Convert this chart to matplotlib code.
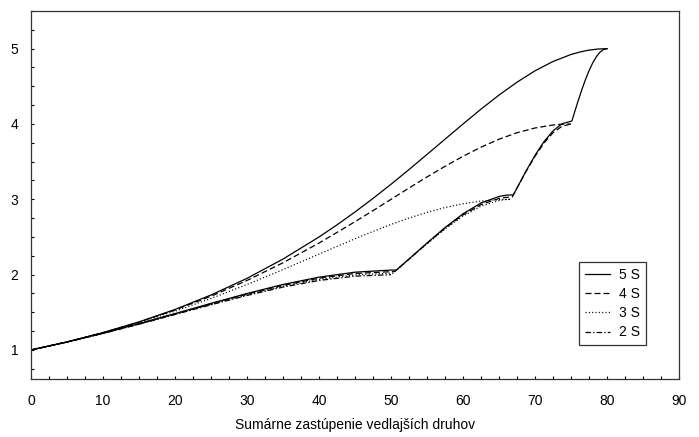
import matplotlib
matplotlib.use("Agg")
import matplotlib.pyplot as plt
from matplotlib.ticker import MultipleLocator

plt.rcParams['font.family'] = ['Liberation Sans', 'DejaVu Sans']
plt.rcParams['lines.scale_dashes'] = False

# ---- data ----
series_labels = ["5 S", "4 S", "3 S", "2 S"]

# upper branches (equal share of secondary species)
x_up5 = [0, 5, 10, 15, 20, 25, 30, 35, 40, 42.5, 45, 47.5, 50, 52.5, 55, 57.5, 60,
         62.5, 65, 67.5, 70, 72.5, 75, 76.25, 77.5, 78.75, 80]
y_up5 = [1.0, 1.107, 1.231, 1.373, 1.538, 1.730, 1.951, 2.207, 2.5, 2.661, 2.832,
         3.012, 3.2, 3.395, 3.596, 3.798, 4.0, 4.197, 4.384, 4.555, 4.706, 4.830,
         4.923, 4.956, 4.981, 4.995, 5.0]

x_up4 = [0, 5, 10, 15, 20, 25, 30, 35, 40, 45, 47.5, 50, 52.5, 55, 57.5, 60, 62.5,
         65, 67.5, 70, 72.5, 73.75, 75]
y_up4 = [1.0, 1.107, 1.230, 1.370, 1.531, 1.714, 1.923, 2.158, 2.419, 2.703, 2.850,
         3.0, 3.150, 3.297, 3.438, 3.571, 3.692, 3.798, 3.884, 3.947, 3.987, 3.997, 4.0]

x_up3 = [0, 5, 10, 15, 20, 25, 30, 35, 40, 45, 47.5, 50, 52.5, 55, 57.5, 60, 62.5,
         65, 66.7]
y_up3 = [1.0, 1.107, 1.227, 1.363, 1.515, 1.684, 1.869, 2.067, 2.273, 2.477, 2.574,
         2.667, 2.752, 2.827, 2.891, 2.941, 2.977, 2.996, 3.0]

# lower branches (secondary species added one after another)
x_lo5 = [0, 5, 10, 15, 20, 25, 30, 35, 40, 45, 50, 50.75, 52.5, 55, 57.5, 60, 62.5,
         65, 66, 67, 68.75, 70, 71.25, 72.5, 73.75, 75.125, 75.5, 76, 76.5, 77,
         77.5, 78, 78.5, 79, 79.5, 80]
y_lo5 = [1.0, 1.107, 1.224, 1.350, 1.483, 1.619, 1.750, 1.870, 1.967, 2.033, 2.061,
         2.061, 2.208, 2.420, 2.625, 2.808, 2.951, 3.038, 3.055, 3.060, 3.375, 3.584,
         3.766, 3.909, 4.003, 4.040, 4.158, 4.310, 4.454, 4.587, 4.706, 4.808,
         4.890, 4.951, 4.988, 5.0]

x_lo4 = [0, 5, 10, 15, 20, 25, 30, 35, 40, 45, 50, 50.5, 52.5, 55, 57.5, 60, 62.5,
         65, 66, 66.83, 67.5, 68.75, 70, 71.25, 72.5, 73.75, 75]
y_lo4 = [1.0, 1.106, 1.222, 1.347, 1.479, 1.613, 1.742, 1.858, 1.953, 2.016, 2.040,
         2.040, 2.206, 2.415, 2.616, 2.793, 2.930, 3.012, 3.026, 3.030, 3.150, 3.368,
         3.571, 3.747, 3.884, 3.970, 4.0]

x_lo3 = [0, 5, 10, 15, 20, 25, 30, 35, 40, 45, 50, 50.25, 52.5, 55, 57.5, 60, 62.5,
         65, 66, 66.67]
y_lo3 = [1.0, 1.106, 1.221, 1.345, 1.475, 1.606, 1.733, 1.847, 1.938, 1.998, 2.020,
         2.020, 2.204, 2.410, 2.606, 2.778, 2.909, 2.985, 2.998, 3.0]

x_lo2 = [0, 5, 10, 15, 20, 25, 30, 35, 40, 45, 50]
y_lo2 = [1.0, 1.105, 1.220, 1.342, 1.471, 1.6, 1.724, 1.835, 1.923, 1.980, 2.0]

x_ticks = [0, 10, 20, 30, 40, 50, 60, 70, 80, 90]
y_ticks = [1, 2, 3, 4, 5]
x_label = "Sumárne zastúpenie vedlajších druhov"

# ---- styles ----
styles = {
    "5 S": dict(linestyle='-'),
    "4 S": dict(linestyle=(0, (4.3, 2.2))),
    "3 S": dict(linestyle=(0, (0.8, 1.6))),
    "2 S": dict(linestyle=(0, (4.0, 1.5, 1.0, 1.5))),
}

fig = plt.figure(figsize=(6.99, 4.37), dpi=100)
ax = fig.add_axes([31/699, 1-379/437, (679-31)/699, (379-11)/437])

lw = 0.9
handles = []
h, = ax.plot(x_up5, y_up5, color='black', lw=lw, **styles["5 S"])
ax.plot(x_lo5, y_lo5, color='black', lw=lw, **styles["5 S"])
handles.append(h)
h, = ax.plot(x_up4, y_up4, color='black', lw=lw, **styles["4 S"])
ax.plot(x_lo4, y_lo4, color='black', lw=lw, **styles["4 S"])
handles.append(h)
h, = ax.plot(x_up3, y_up3, color='black', lw=lw, **styles["3 S"])
ax.plot(x_lo3, y_lo3, color='black', lw=lw, **styles["3 S"])
handles.append(h)
h, = ax.plot(x_lo2, y_lo2, color='black', lw=lw, **styles["2 S"])
handles.append(h)

ax.set_xlim(0, 90)
ax.set_ylim(0.615, 5.5)
ax.set_xticks(x_ticks)
ax.set_yticks(y_ticks)
ax.xaxis.set_minor_locator(MultipleLocator(2.5))
ax.yaxis.set_minor_locator(MultipleLocator(0.25))
ax.tick_params(which='both', direction='in', length=2.5, width=0.8,
               top=False, right=False, labelsize=10, colors='black')
ax.tick_params(axis='x', which='major', pad=11)
ax.tick_params(axis='y', which='major', pad=9)
for s in ax.spines.values():
    s.set_linewidth(0.9)
    s.set_color('#333333')

ax.set_xlabel(x_label, fontsize=10, labelpad=7)

leg = fig.legend(handles, series_labels, loc='upper left',
                 bbox_to_anchor=(579/699, 1-262/437), fontsize=10,
                 frameon=True, fancybox=False, shadow=False,
                 handlelength=1.8, handletextpad=0.7, labelspacing=0.38,
                 borderpad=0.4, borderaxespad=0)
leg.get_frame().set_edgecolor('black')
leg.get_frame().set_linewidth(0.9)

fig.savefig("out.png", dpi=100)
